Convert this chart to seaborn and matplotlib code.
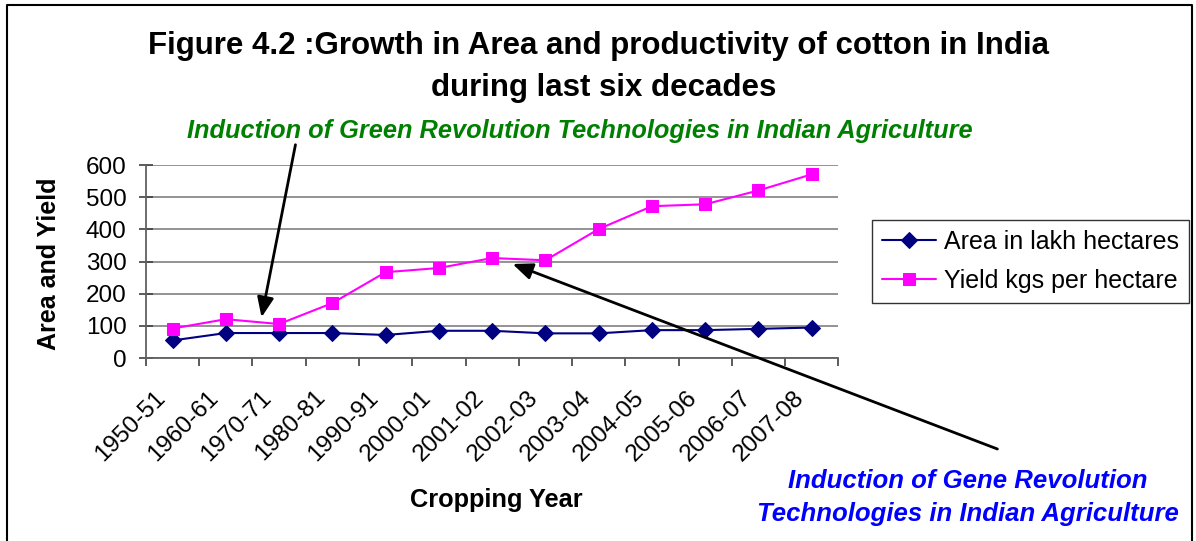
import pandas as pd
import matplotlib.pyplot as plt
import matplotlib.transforms as mtransforms
from matplotlib.patches import FancyArrowPatch
from matplotlib.lines import Line2D
import seaborn as sns

sns.set_style('white')
plt.rcParams['font.family'] = ['Liberation Sans', 'DejaVu Sans']
plt.rcParams['text.color'] = 'black'
plt.rcParams['axes.labelcolor'] = 'black'
plt.rcParams['xtick.color'] = 'black'
plt.rcParams['ytick.color'] = 'black'

# data
years = ['1950-51', '1960-61', '1970-71', '1980-81', '1990-91', '2000-01', '2001-02',
         '2002-03', '2003-04', '2004-05', '2005-06', '2006-07', '2007-08']
area = [55, 78, 78, 78, 72, 85, 85, 77, 77, 87, 87, 91, 95]
yld = [92, 121, 106, 171, 267, 280, 311, 304, 401, 472, 478, 521, 571]

df = pd.DataFrame({'pos': range(len(years)), 'area': area, 'yield': yld})

fig = plt.figure(figsize=(11.96, 5.41), dpi=100)
ax = fig.add_axes([0.122, 0.338, 0.579, 0.357])

sns.lineplot(data=df, x='pos', y='area', ax=ax, color='#000080', marker='D',
             markersize=8, markeredgecolor='#000080', linewidth=1.5, label='Area in lakh hectares')
sns.lineplot(data=df, x='pos', y='yield', ax=ax, color='#FF00FF', marker='s',
             markersize=8.5, markeredgecolor='#FF00FF', linewidth=1.5, label='Yield kgs per hectare')

ax.set_xlim(-0.5, len(years) - 0.5)
ax.set_ylim(0, 600)
ax.set_yticks(range(0, 601, 100))
ax.set_xticks(range(len(years)))
ax.set_xticklabels(years, rotation=45, ha='right', va='center', rotation_mode='anchor',
                   fontsize=17.5)
ax.set_xticks([i - 0.5 for i in range(len(years) + 1)], minor=True)
ax.tick_params(axis='x', which='both', bottom=True)
ax.tick_params(axis='y', which='major', left=True)
ax.tick_params(axis='x', which='major', length=0, pad=26)
ax.tick_params(axis='x', which='minor', length=6, color='#404040', direction='out', width=1.2)
ax.tick_params(axis='y', length=10, color='#404040', labelsize=17.5, direction='inout',
               pad=9, width=1.2)
shift = mtransforms.ScaledTranslation(-11 / 100, 0, fig.dpi_scale_trans)
for lab in ax.get_xticklabels():
    lab.set_transform(lab.get_transform() + shift)
ax.yaxis.grid(True, color='#808080', linewidth=1.2)
for s in ['top', 'right']:
    ax.spines[s].set_visible(False)
for s in ['left', 'bottom']:
    ax.spines[s].set_color('#606060')
    ax.spines[s].set_linewidth(1.3)

ax.set_xlabel('Cropping Year', fontsize=18.3, fontweight='bold')
ax.xaxis.set_label_coords(0.5065, -0.674)
ax.set_ylabel('Area and Yield', fontsize=18, fontweight='bold')
ax.yaxis.set_label_coords(-0.122, 0.49)

leg = ax.legend(loc='center left', bbox_to_anchor=(1.049, 0.5), fontsize=18, frameon=True,
                fancybox=False, edgecolor='black', handlelength=2.16, borderpad=0.4,
                labelspacing=0.6, handletextpad=0.32, borderaxespad=0)
leg.get_frame().set_linewidth(1.0)

fig.text(0.5, 0.915, 'Figure 4.2 :Growth in Area and productivity of cotton in India',
         ha='center', va='center', fontsize=22.5, fontweight='bold')
fig.text(0.505, 0.838, 'during last six decades', ha='center', va='center',
         fontsize=22.5, fontweight='bold')
fig.text(0.485, 0.757, 'Induction of Green Revolution Technologies in Indian Agriculture',
         ha='center', va='center', fontsize=18.3, fontweight='bold', style='italic', color='#008000')
fig.text(0.809, 0.080, 'Induction of Gene Revolution\nTechnologies in Indian Agriculture',
         ha='center', va='center', fontsize=18.5, fontweight='bold', style='italic',
         color='#0000FF', linespacing=1.45)

# arrows in figure pixel coordinates converted to fraction
def fp(x, y):
    return (x / 1196, 1 - y / 541)

fig.add_artist(FancyArrowPatch(fp(296, 142), fp(261, 320), transform=fig.transFigure,
                               arrowstyle='-|>,head_length=0.6,head_width=0.25',
                               mutation_scale=20, color='black', linewidth=2))
fig.add_artist(FancyArrowPatch(fp(1000, 450), fp(510, 263), transform=fig.transFigure,
                               arrowstyle='-|>,head_length=0.6,head_width=0.25',
                               mutation_scale=20, color='black', linewidth=2))

# outer frame: left, top, right
fx = [fp(7, 545), fp(7, 5), fp(1192, 5), fp(1192, 545)]
fig.add_artist(Line2D([p[0] for p in fx], [p[1] for p in fx], transform=fig.transFigure,
                      color='black', linewidth=1.5))

fig.savefig('out.png', dpi=100)
